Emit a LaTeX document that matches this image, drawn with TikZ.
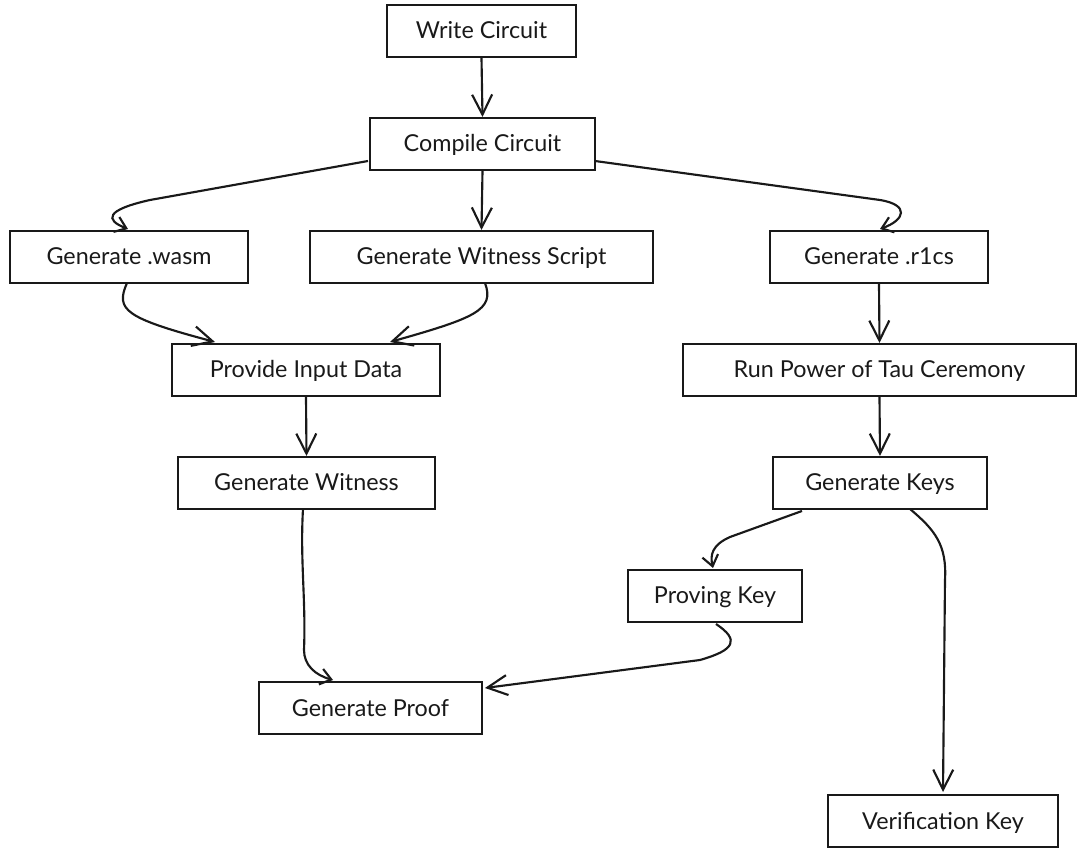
\documentclass[tikz,border=0pt]{standalone}
\usepackage{fontspec}
\setmainfont{Lato}
\usetikzlibrary{arrows.meta}
\tikzset{
  box/.style={draw=black!90, line width=1.6pt, rectangle, inner sep=0pt, text height=14pt, text depth=2pt, font=\fontsize{17.5}{20}\selectfont, text=black!90},
  conn/.style={draw=black!90, line width=1.6pt, -{Straight Barb[length=15pt,width=15pt,line width=1.6pt]}},
  sconn/.style={draw=black!90, line width=1.6pt, -{Straight Barb[length=8pt,width=12pt,line width=1.6pt]}}
}
\begin{document}
\begin{tikzpicture}[x=0.75pt,y=-0.75pt]
\useasboundingbox (0,0) rectangle (1083,859);
\node[box, minimum width=189*0.75pt, minimum height=52*0.75pt] (write) at (481.5,31) {Write Circuit};
\node[box, minimum width=225*0.75pt, minimum height=52*0.75pt] (compile) at (482.5,144) {Compile Circuit};
\node[box, minimum width=238*0.75pt, minimum height=52*0.75pt] (wasm) at (129,257) {Generate .wasm};
\node[box, minimum width=343*0.75pt, minimum height=52*0.75pt] (wscript) at (481.5,257) {Generate Witness Script};
\node[box, minimum width=218*0.75pt, minimum height=52*0.75pt] (r1cs) at (879,257) {Generate .r1cs};
\node[box, minimum width=268*0.75pt, minimum height=52*0.75pt] (input) at (306,370) {Provide Input Data};
\node[box, minimum width=393*0.75pt, minimum height=52*0.75pt] (tau) at (879.5,370) {Run Power of Tau Ceremony};
\node[box, minimum width=257*0.75pt, minimum height=52*0.75pt] (gwit) at (306.5,483) {Generate Witness};
\node[box, minimum width=214*0.75pt, minimum height=52*0.75pt] (keys) at (880,483) {Generate Keys};
\node[box, minimum width=174*0.75pt, minimum height=52*0.75pt] (pk) at (715,596) {Proving Key};
\node[box, minimum width=223*0.75pt, minimum height=52*0.75pt] (proof) at (370.5,708) {Generate Proof};
\node[box, minimum width=230*0.75pt, minimum height=52*0.75pt] (vk) at (943,821) {Verification Key};

\coordinate (c1) at (368,161);
\coordinate (c2) at (595,161);
\coordinate (k1) at (802,511);
\coordinate (k2) at (910,509);

\draw[conn] (write.south) -- (compile.north);
\draw[sconn] (c1) -- (150,200) .. controls (105,210) and (105,220) .. (128,229);
\draw[conn] (compile.south) -- (wscript.north);
\draw[sconn] (c2) -- (880,200) .. controls (910,205) and (905,220) .. (880,229);
\draw[conn] (127,283) .. controls (115,310) and (125,318) .. (215,342);
\draw[conn] (485,283) .. controls (495,310) and (475,318) .. (390,342);
\draw[conn] (input.south) -- (gwit.north);
\draw[conn] (r1cs.south) -- (tau.north);
\draw[conn] (tau.south) -- (keys.north);
\draw[sconn] (303,509) .. controls (300,560) and (306,600) .. (304,650) .. controls (304,665) and (315,675) .. (333,680);
\draw[sconn] (k1) -- (730,537) .. controls (712,545) and (710,555) .. (713,568);
\draw[conn] (k2) .. controls (935,530) and (947,545) .. (945,580) -- (943,792);
\draw[conn] (716,624) .. controls (740,640) and (735,650) .. (700,660) -- (485,688);
\end{tikzpicture}
\end{document}
